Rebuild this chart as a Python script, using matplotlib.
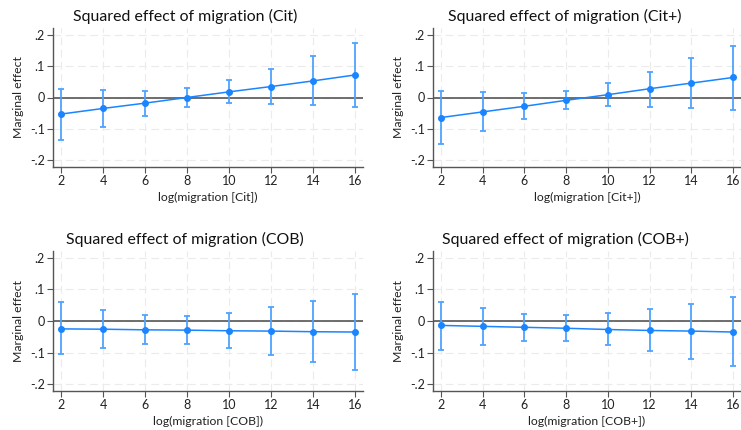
import numpy as np
import matplotlib
matplotlib.use("Agg")
import matplotlib.pyplot as plt

plt.rcParams["font.family"] = ["Lato", "DejaVu Sans"]

# ── data ──────────────────────────────────────────────────────────────────────
x_vals = [2, 4, 6, 8, 10, 12, 14, 16]
titles = ["Squared effect of migration (Cit)", "Squared effect of migration (Cit+)",
          "Squared effect of migration (COB)", "Squared effect of migration (COB+)"]
xlabels = ["log(migration [Cit])", "log(migration [Cit+])",
           "log(migration [COB])", "log(migration [COB+])"]

cit_est = [-0.053, -0.035, -0.018, 0.000, 0.018, 0.035, 0.053, 0.072]
cit_hi  = [0.028, 0.024, 0.022, 0.029, 0.055, 0.090, 0.131, 0.173]
cit_lo  = [-0.135, -0.095, -0.059, -0.030, -0.019, -0.020, -0.025, -0.030]

citp_est = [-0.064, -0.046, -0.028, -0.009, 0.009, 0.028, 0.046, 0.064]
citp_hi  = [0.021, 0.016, 0.013, 0.020, 0.045, 0.083, 0.125, 0.166]
citp_lo  = [-0.149, -0.107, -0.068, -0.038, -0.028, -0.029, -0.034, -0.039]

cob_est = [-0.025, -0.026, -0.028, -0.029, -0.031, -0.032, -0.034, -0.035]
cob_hi  = [0.059, 0.035, 0.020, 0.016, 0.026, 0.043, 0.063, 0.085]
cob_lo  = [-0.105, -0.086, -0.073, -0.073, -0.085, -0.107, -0.130, -0.156]

cobp_est = [-0.014, -0.017, -0.020, -0.023, -0.027, -0.030, -0.032, -0.035]
cobp_hi  = [0.061, 0.040, 0.023, 0.018, 0.025, 0.038, 0.055, 0.075]
cobp_lo  = [-0.091, -0.075, -0.064, -0.064, -0.076, -0.096, -0.120, -0.144]

series = [(cit_est, cit_lo, cit_hi), (citp_est, citp_lo, citp_hi),
          (cob_est, cob_lo, cob_hi), (cobp_est, cobp_lo, cobp_hi)]

yticks = [-0.2, -0.1, 0, 0.1, 0.2]
yticklabels = ["-.2", "-.1", "0", ".1", ".2"]

# ── layout (pixels, converted to figure fractions) ────────────────────────────
W, H = 741, 430
boxes = [(53, 28, 310, 139), (433, 28, 308, 139),
         (53, 251, 310, 140), (433, 251, 308, 140)]
title_x = [185, 565, 185, 565]
title_y = [16, 16, 239, 239]

blue = "#1a85ff"
ci_col = "#4fa3ff"
spine_col = "#555555"

fig = plt.figure(figsize=(W / 100, H / 100), dpi=100)

for i, (est, lo, hi) in enumerate(series):
    l, t, w, h = boxes[i]
    ax = fig.add_axes([l / W, 1 - (t + h) / H, w / W, h / H])
    est = np.array(est)
    lo = np.array(lo)
    hi = np.array(hi)

    ax.axhline(0, color="#555555", lw=1.2, zorder=1)
    ax.errorbar(x_vals, est, yerr=[est - lo, hi - est], fmt="none",
                ecolor=ci_col, elinewidth=1.3, capsize=2.2, capthick=1.3, zorder=2)
    ax.plot(x_vals, est, "-o", color=blue, lw=1.1, markersize=4, zorder=3)

    ax.set_xlim(1.62, 16.38)
    ax.set_ylim(-0.222, 0.222)
    ax.set_xticks(x_vals)
    ax.set_yticks(yticks)
    ax.set_yticklabels(yticklabels)
    ax.tick_params(axis="both", labelsize=9, length=4, color=spine_col,
                   labelcolor="#222222", pad=2)
    ax.grid(True, color="#ebebeb", lw=0.8, ls=(0, (7, 4)), zorder=0)
    ax.set_axisbelow(True)
    for side in ["top", "right"]:
        ax.spines[side].set_visible(False)
    for side in ["left", "bottom"]:
        ax.spines[side].set_color(spine_col)
        ax.spines[side].set_linewidth(1.0)

    ax.set_xlabel(xlabels[i], fontsize=8.8, color="#222222", labelpad=3)
    ax.set_ylabel("Marginal effect", fontsize=8.8, color="#222222", labelpad=4)

    fig.text(title_x[i] / W, 1 - title_y[i] / H, titles[i], ha="center",
             va="center", fontsize=11.4, color="#111111")

fig.savefig("out.png", dpi=100, facecolor="white")
plt.close(fig)
